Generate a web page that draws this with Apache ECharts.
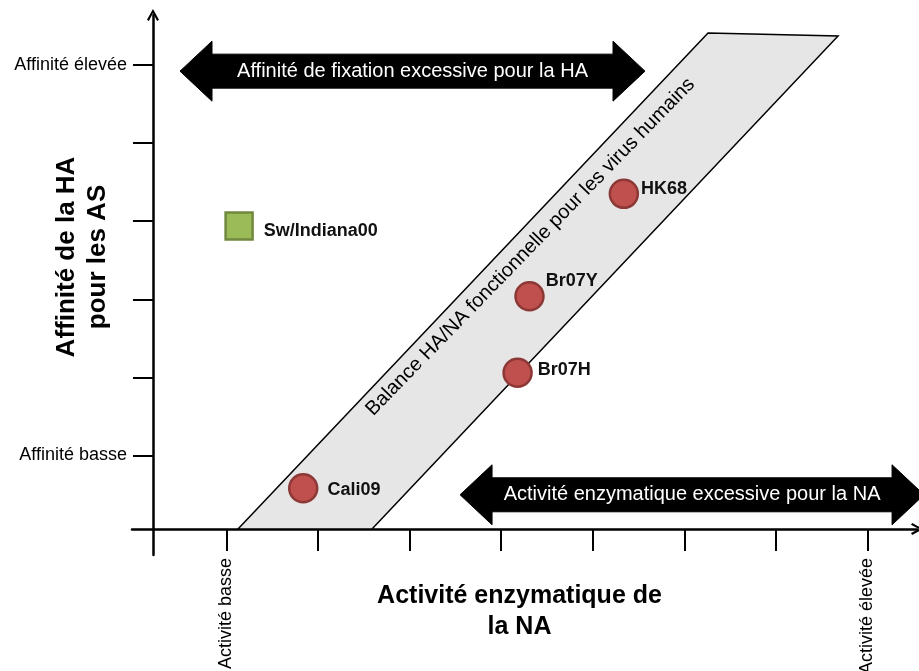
<!DOCTYPE html>
<html>
<head>
<meta charset="utf-8">
<script src="https://cdn.jsdelivr.net/npm/echarts@6/dist/echarts.min.js"></script>
<style>
html,body{margin:0;padding:0;background:#fff;}
#main{width:919px;height:671px;}
</style>
</head>
<body>
<div id="main"></div>
<script>
// ---- data ----
const xTickValues = [0.8, 1.8, 2.8, 3.8, 4.8, 5.8, 6.8, 7.8];
const xTickLabelValues = [0.8, 7.8];
const xTickLabels = ['Activité basse', 'Activité élevée'];
const yTickValues = [0.94, 1.94, 2.94, 3.94, 4.94, 5.94];
const yTickLabelValues = [0.94, 5.94];
const yTickLabels = ['Affinité basse', 'Affinité élevée'];

const humanNames = ['Cali09', 'Br07H', 'Br07Y', 'HK68'];
const humanX = [1.64, 3.98, 4.11, 5.14];
const humanY = [0.52, 2.0, 2.98, 4.29];

const swineNames = ['Sw/Indiana00'];
const swineX = [0.94];
const swineY = [3.88];

const bandX = [0.928, 2.391, 7.478, 6.059];
const bandY = [0, 0, 6.311, 6.35];
const bandLabel = 'Balance HA/NA fonctionnelle pour les virus humains';
const bandLabelX = [4.12];
const bandLabelY = [3.61];

const arrowLabels = ['Affinité de fixation excessive pour la HA', 'Activité enzymatique excessive pour la NA'];
const arrowStartX = [0.295, 3.352];
const arrowEndX = [5.371, 8.417];
const arrowY = [5.861, 0.437];

// ---- chart ----
const FONT = '"Liberation Sans", Arial, sans-serif';
const chart = echarts.init(document.getElementById('main'), null, {renderer: 'canvas'});
const chevron = 'path://M0,9 L5,0 L10,9 L8.4,10 L5,3.4 L1.6,10 Z';

const labelStyle = {
  'Cali09': {distance: 9, offset: [0, 2]},
  'Br07H': {distance: 5, offset: [0, -3]},
  'Br07Y': {distance: 1, offset: [0, -15]},
  'HK68': {distance: 2, offset: [0, -5]},
  'Sw/Indiana00': {distance: 10, offset: [0, 5]}
};

function pointData(names, xs, ys) {
  return names.map((n, i) => ({
    name: n,
    value: [xs[i], ys[i]],
    label: labelStyle[n]
  }));
}

const option = {
  animation: false,
  backgroundColor: '#fff',
  textStyle: {fontFamily: FONT},
  grid: {left: 132, right: 2, top: 15, bottom: 116, containLabel: false, outerBoundsMode: 'none'},
  xAxis: {
    type: 'value',
    min: -0.229,
    max: 8.34,
    axisLine: {onZero: true, lineStyle: {color: '#000', width: 2.5}, symbol: ['none', chevron], symbolSize: [12, 12]},
    axisTick: {show: true, customValues: xTickValues, length: 22, inside: false, lineStyle: {color: '#000', width: 2}},
    axisLabel: {
      customValues: xTickLabelValues,
      rotate: 90,
      margin: 3,
      fontSize: 18,
      color: '#000',
      fontFamily: FONT,
      padding: [0, 0, 12, 0],
      formatter: v => { const i = xTickLabelValues.findIndex(t => Math.abs(t - v) < 1e-6); return i >= 0 ? xTickLabels[i] : ''; }
    },
    splitLine: {show: false},
    name: 'Activité enzymatique de\nla NA',
    nameLocation: 'middle',
    nameGap: 26,
    nameMoveOverlap: false,
    nameTextStyle: {fontWeight: 'bold', fontSize: 25, lineHeight: 31, color: '#000', fontFamily: FONT, padding: [0, 10, 0, 0]}
  },
  yAxis: {
    type: 'value',
    min: -0.334,
    max: 6.58,
    axisLine: {onZero: true, lineStyle: {color: '#000', width: 2.5}, symbol: ['none', chevron], symbolSize: [12, 12]},
    axisTick: {show: true, customValues: yTickValues, length: 20, inside: false, lineStyle: {color: '#000', width: 2}},
    axisLabel: {
      customValues: yTickLabelValues,
      margin: 5,
      fontSize: 18,
      color: '#000',
      fontFamily: FONT,
      formatter: v => { const i = yTickLabelValues.findIndex(t => Math.abs(t - v) < 1e-6); return i >= 0 ? yTickLabels[i] : ''; }
    },
    splitLine: {show: false},
    name: 'Affinité de la HA\npour les AS',
    nameLocation: 'middle',
    nameRotate: 90,
    nameGap: 19,
    nameMoveOverlap: false,
    nameTextStyle: {fontWeight: 'bold', fontSize: 26, lineHeight: 31, color: '#000', fontFamily: FONT, padding: [0, 0, 0, 56]}
  },
  series: [
    {
      type: 'custom',
      name: 'band',
      clip: false,
      z: 1,
      silent: true,
      data: bandX.map((x, i) => [x, bandY[i]]),
      renderItem: function (params, api) {
        if (params.dataIndex !== 0) return null;
        const pts = bandX.map((x, i) => api.coord([x, bandY[i]]));
        return {
          type: 'polygon',
          shape: {points: pts},
          style: {fill: '#e6e6e6', stroke: '#000', lineWidth: 1.5}
        };
      }
    },
    {
      type: 'custom',
      name: 'bandLabel',
      clip: false,
      z: 3,
      silent: true,
      data: bandLabelX.map((x, i) => [x, bandLabelY[i]]),
      renderItem: function (params, api) {
        const p = api.coord([api.value(0), api.value(1)]);
        return {
          type: 'text',
          x: p[0], y: p[1],
          rotation: 45.8 * Math.PI / 180,
          style: {text: bandLabel, fill: '#000', font: '20px ' + FONT, align: 'center', verticalAlign: 'middle'}
        };
      }
    },
    {
      type: 'custom',
      name: 'arrows',
      clip: false,
      z: 4,
      silent: true,
      data: arrowStartX.map((x, i) => [x, arrowEndX[i], arrowY[i]]),
      renderItem: function (params, api) {
        const a = api.coord([api.value(0), api.value(2)]);
        const b = api.coord([api.value(1), api.value(2)]);
        const cy = a[1], x0 = a[0], x1 = b[0];
        const hl = 32, hh = 30, bh = 17;
        const pts = [
          [x0, cy], [x0 + hl, cy - hh], [x0 + hl, cy - bh], [x1 - hl, cy - bh], [x1 - hl, cy - hh],
          [x1, cy], [x1 - hl, cy + hh], [x1 - hl, cy + bh], [x0 + hl, cy + bh], [x0 + hl, cy + hh]
        ];
        return {
          type: 'group',
          children: [
            {type: 'polygon', shape: {points: pts}, style: {fill: '#000', stroke: '#000', lineWidth: 1}},
            {type: 'text', x: (x0 + x1) / 2, y: cy,
             style: {text: arrowLabels[params.dataIndex], fill: '#fff', font: '20px ' + FONT, align: 'center', verticalAlign: 'middle'}}
          ]
        };
      }
    },
    {
      type: 'scatter',
      name: 'Virus humains',
      z: 5,
      symbol: 'circle',
      symbolSize: 28,
      itemStyle: {color: '#c0504d', borderColor: '#8c3836', borderWidth: 2.5, opacity: 1},
      label: {show: true, position: 'right', formatter: '{b}', fontWeight: 'bold', fontSize: 18, color: '#111', fontFamily: FONT},
      data: pointData(humanNames, humanX, humanY)
    },
    {
      type: 'scatter',
      name: 'Virus porcin',
      z: 5,
      symbol: 'rect',
      symbolSize: 27,
      itemStyle: {color: '#9bbb59', borderColor: '#71893f', borderWidth: 2.5, opacity: 1},
      label: {show: true, position: 'right', formatter: '{b}', fontWeight: 'bold', fontSize: 18, color: '#111', fontFamily: FONT},
      data: pointData(swineNames, swineX, swineY)
    }
  ]
};
chart.setOption(option);
</script>
</body>
</html>
